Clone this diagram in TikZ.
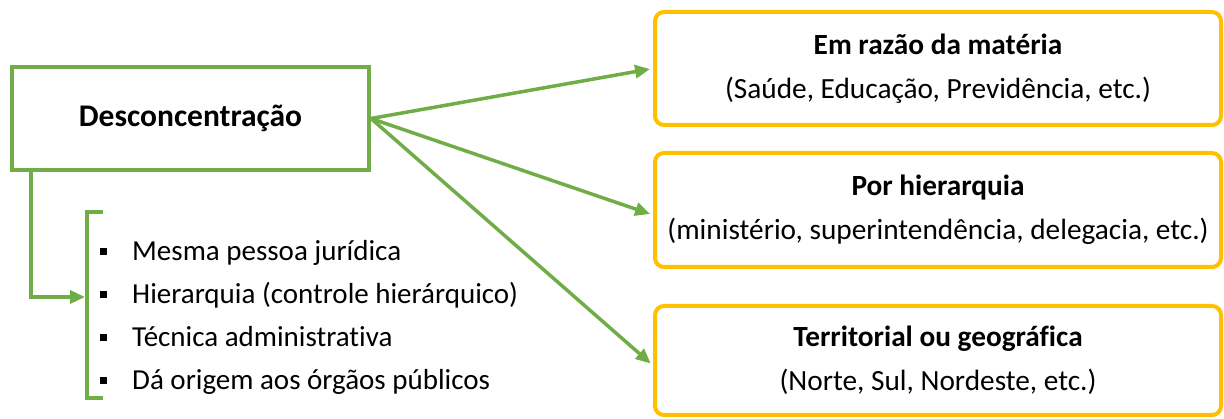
\documentclass[tikz,border=0pt]{standalone}
\usepackage{fontspec}
\setmainfont{Carlito}[Ligatures=NoCommon]
\usetikzlibrary{arrows.meta}
\definecolor{grn}{HTML}{70AD47}
\definecolor{gold}{HTML}{FFC000}
\newcommand{\bulsq}{\raisebox{6pt}{\rule{7pt}{7pt}}\hspace{25pt}}
\begin{document}
\begin{tikzpicture}[x=1pt,y=-1pt,
  mainbox/.style={draw=grn, line width=4pt, minimum width=357pt, minimum height=103pt, inner sep=0pt, font=\fontsize{31.5}{36}\selectfont\bfseries},
  catbox/.style={draw=gold, line width=4pt, rounded corners=9pt, minimum width=566pt, inner sep=0pt, align=center, font=\fontsize{29.3}{44}\selectfont},
  conn/.style={draw=grn, line width=3.5pt, -{Triangle[length=15pt,width=13pt]}},
  brk/.style={draw=grn, line width=3.5pt},
  item/.style={anchor=base west, inner sep=0pt, font=\fontsize{29}{34}\selectfont}
]
\useasboundingbox (0,0) rectangle (1224,419);
\node[mainbox] (main) at (190.5,118.5) {\raisebox{-2pt}{Desconcentração}};
\node[catbox, minimum height=113pt] (c1) at (938,68.5) {\textbf{Em razão da matéria}\\(Saúde, Educação, Previdência, etc.)};
\node[catbox, minimum height=114pt] (c2) at (938,210) {\textbf{Por hierarquia}\\(ministério, superintendência, delegacia, etc.)};
\node[catbox, minimum height=109pt] (c3) at (938,360.5) {\textbf{Territorial ou geográfica}\\(Norte, Sul, Nordeste, etc.)};
\draw[conn, shorten >=3pt] (main.east) -- (c1.west);
\draw[conn, shorten >=3pt] (main.east) -- ([yshift=-5pt]c2.west);
\draw[conn, shorten >=3pt] (main.east) -- ([yshift=-5pt]c3.west);
\coordinate (lst) at (85,297);
\draw[brk] (103,212) -| (87,398) -- (103,398);
\draw[conn] ([xshift=21pt]main.south west) |- (lst);
\node[item] (i1) at (100,261) {\bulsq Mesma pessoa jurídica};
\node[item] (i2) at (100,304) {\bulsq Hierarquia (controle hierárquico)};
\node[item] (i3) at (100,347) {\bulsq Técnica administrativa};
\node[item] (i4) at (100,390) {\bulsq Dá origem aos órgãos públicos};
\end{tikzpicture}
\end{document}
